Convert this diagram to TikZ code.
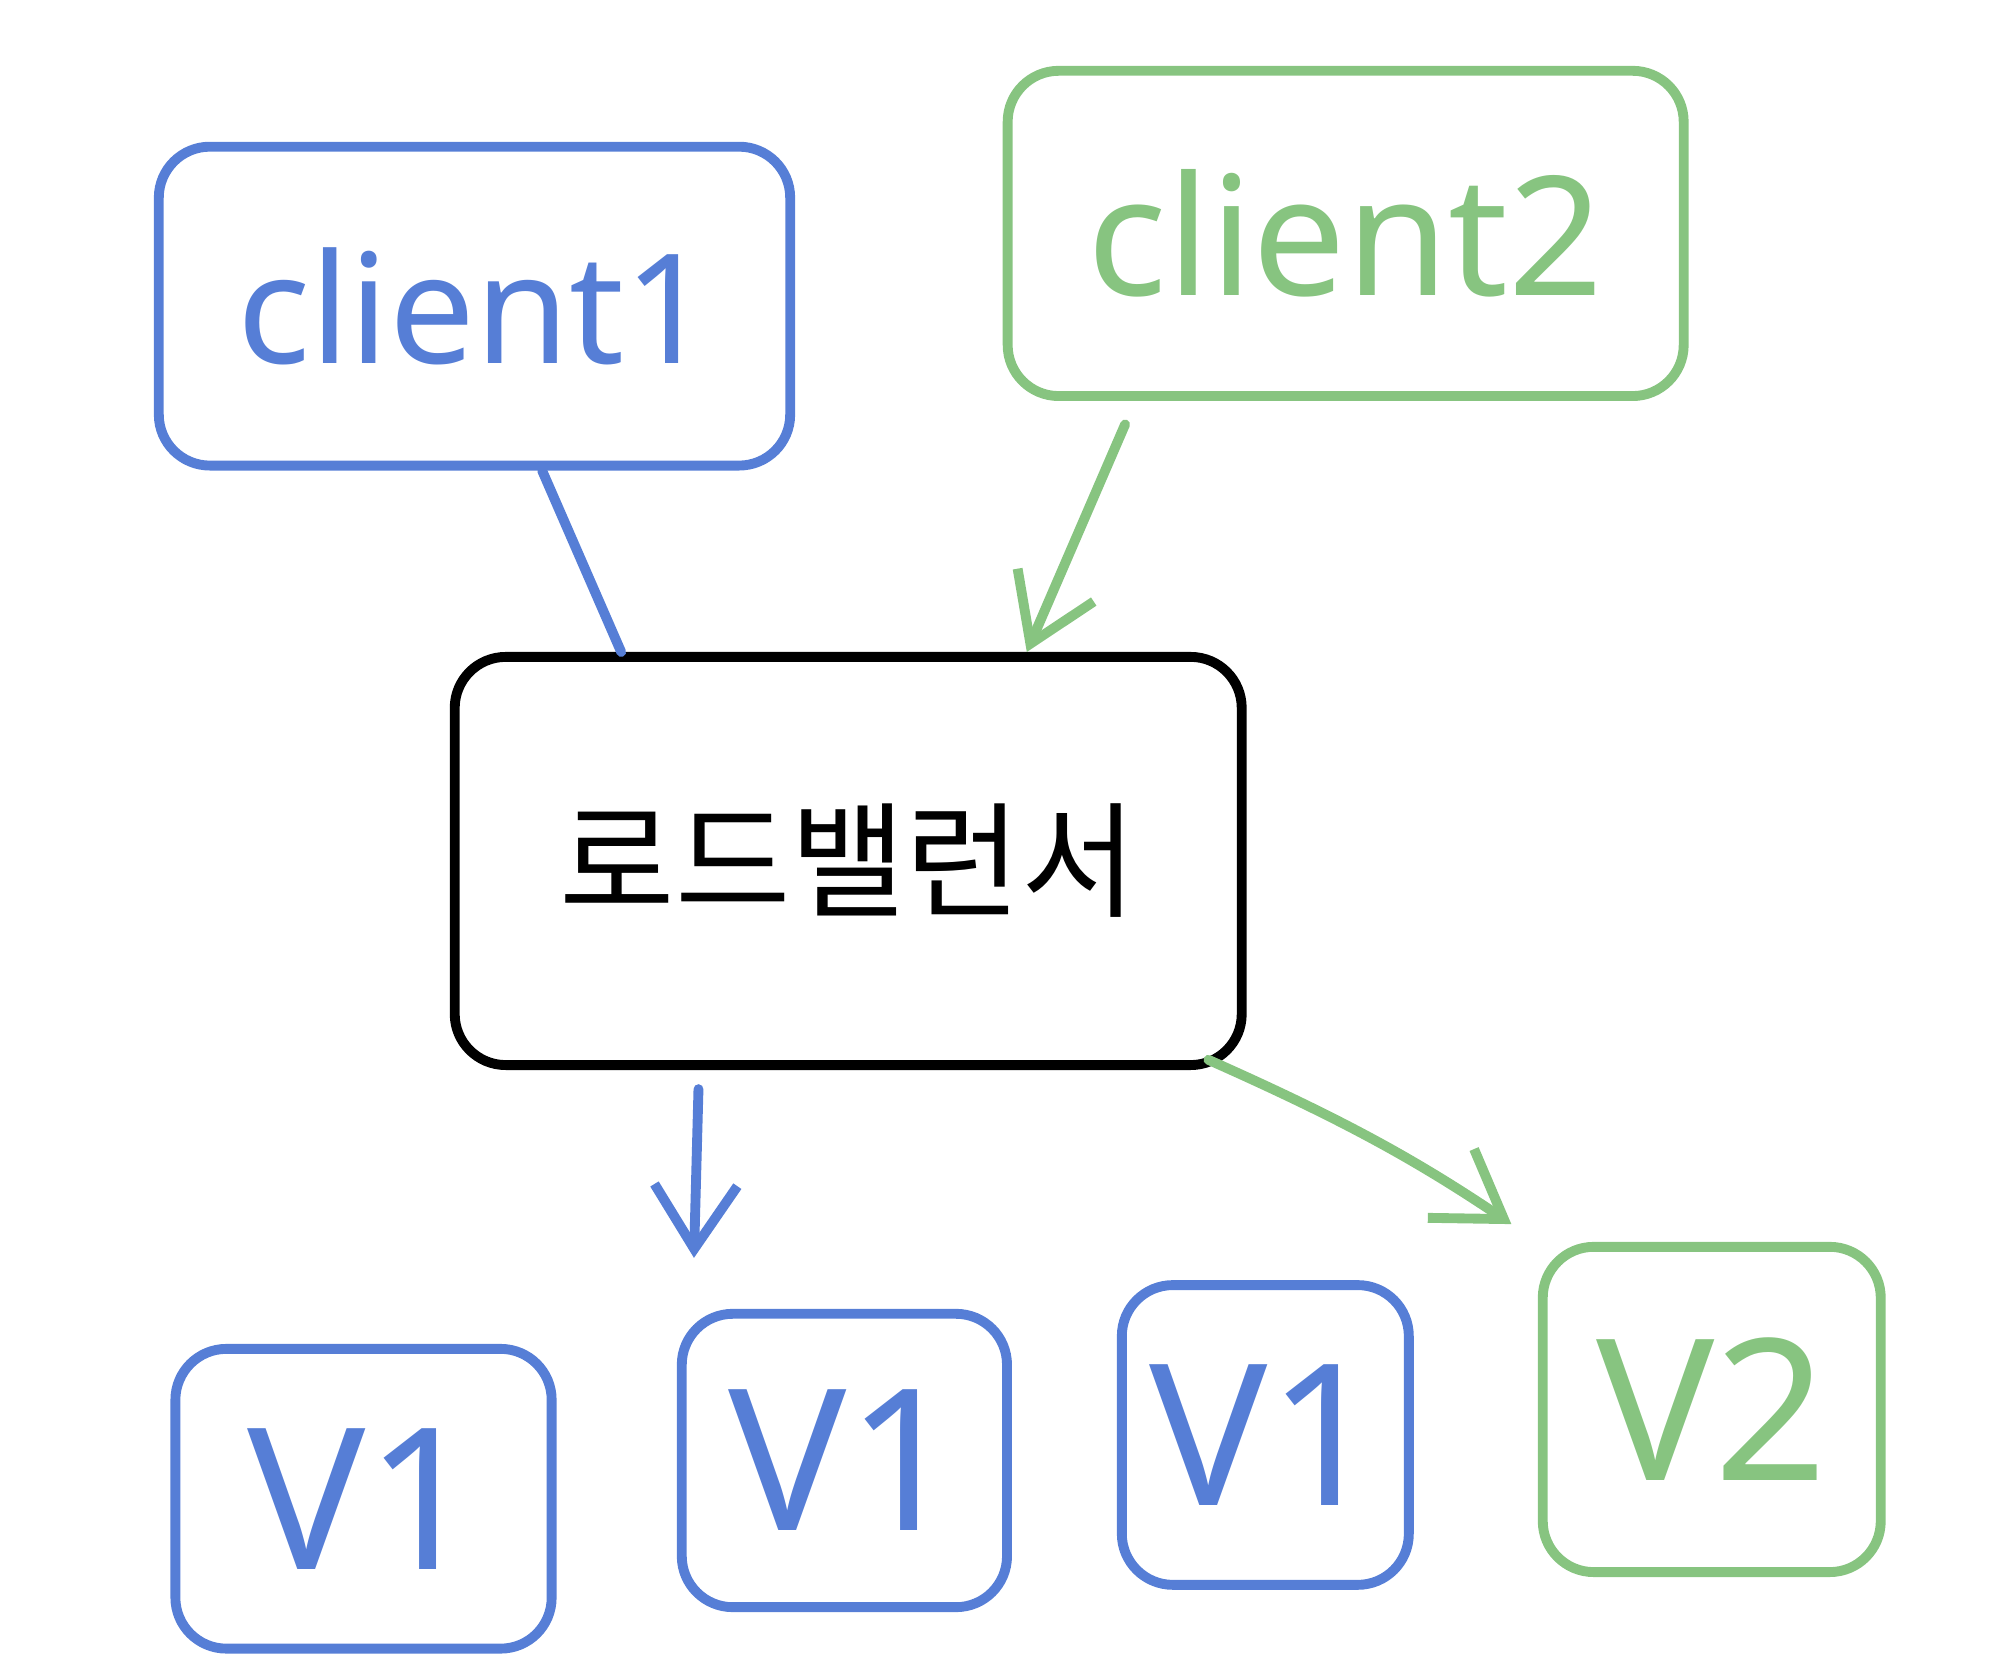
\documentclass[tikz,border=0pt]{standalone}
\usepackage{fontspec}
\setmainfont{Noto Sans}
\newfontfamily\kofont{Noto Sans CJK KR}
\usetikzlibrary{arrows.meta,positioning}
\definecolor{myblue}{RGB}{86,126,214}
\definecolor{mygreen}{RGB}{135,196,128}
\begin{document}
\begin{tikzpicture}[>={Straight Barb[length=5mm,width=6.5mm]},line width=2.2pt,line cap=round]
\tikzstyle{box}=[draw,rounded corners=4mm,inner sep=0]
\tikzstyle{vbox}=[box,myblue,font=\fontsize{44}{48}\selectfont]
\useasboundingbox (0,0) rectangle (15.68,-13.16);
% clients
\node[box,myblue,minimum width=4.95cm,minimum height=2.5cm,font=\fontsize{34}{40}\selectfont] (c1) at (3.72,-2.40) {client1};
\node[box,mygreen,minimum width=5.3cm,minimum height=2.55cm,font=\fontsize{37}{42}\selectfont] (c2) at (10.55,-1.83) {client2};
% load balancer
\node[box,minimum width=6.17cm,minimum height=3.2cm,font=\kofont\fontsize{28}{32}\selectfont] (lb) at (6.65,-6.75) {로드밸런서};
% versions
\node[vbox,minimum width=2.95cm,minimum height=2.35cm] (v1a) at (2.85,-11.75) {V1};
\node[vbox,minimum width=2.55cm,minimum height=2.3cm] (v1b) at (6.62,-11.45) {V1};
\node[vbox,minimum width=2.25cm,minimum height=2.35cm] (v1c) at (9.92,-11.25) {V1};
\node[vbox,mygreen,minimum width=2.65cm,minimum height=2.55cm] (v2) at (13.42,-11.05) {V2};
% connectors
\draw[myblue] ([xshift=5.3mm]c1.south) -- ([xshift=-17.8mm]lb.north);
\draw[->,mygreen,shorten <=2mm] ([xshift=-16.5mm]c2.south) -- ([xshift=14mm]lb.north);
\draw[->,myblue,shorten <=1.5mm,shorten >=4mm] ([xshift=-11.7mm]lb.south) -- ([xshift=-11.9mm]v1b.north);
\draw[->,mygreen,shorten >=2.5mm] ([xshift=-3mm,yshift=0.8mm]lb.south east) to[bend left=5] (v2.north west);
\end{tikzpicture}
\end{document}
